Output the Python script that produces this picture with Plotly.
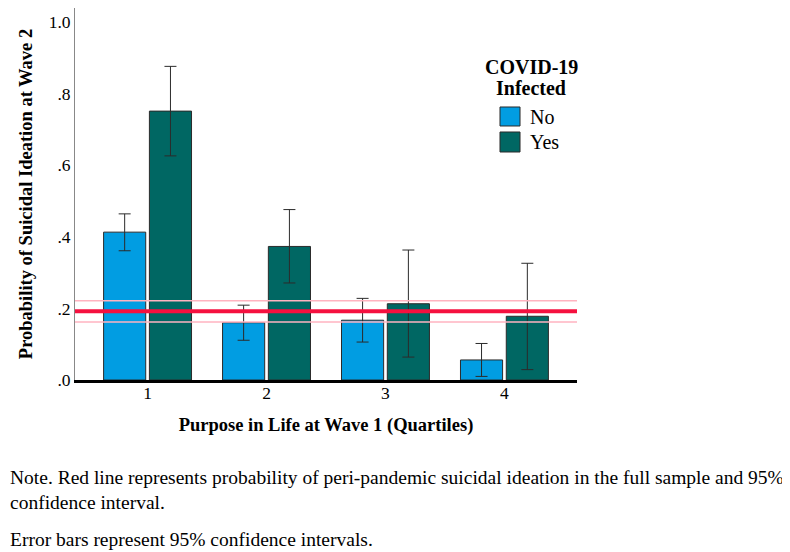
import plotly.graph_objects as go

# Data
quartiles = [1, 2, 3, 4]
groups = ["No", "Yes"]
no_values = [0.413, 0.160, 0.167, 0.056]
no_upper = [0.464, 0.209, 0.228, 0.102]
no_lower = [0.361, 0.111, 0.106, 0.010]
yes_values = [0.751, 0.373, 0.213, 0.178]
yes_upper = [0.876, 0.476, 0.363, 0.326]
yes_lower = [0.626, 0.271, 0.064, 0.029]
full_sample = 0.192
full_sample_ci = [0.162, 0.2215]
y_tickvals = [0, 0.2, 0.4, 0.6, 0.8, 1.0]
y_ticktext = [".0", ".2", ".4", ".6", ".8", "1.0"]

serif = "Liberation Serif, Times New Roman, serif"
colors = {"No": "#019de2", "Yes": "#006763"}

fig = go.Figure()

# Bars with 95% CI error bars
for name, vals, up, lo in [
    ("No", no_values, no_upper, no_lower),
    ("Yes", yes_values, yes_upper, yes_lower),
]:
    fig.add_trace(go.Bar(
        x=quartiles,
        y=vals,
        name=name,
        marker=dict(color=colors[name], line=dict(color="#2b2b2b", width=1)),
        error_y=dict(
            type="data",
            symmetric=False,
            array=[u - v for u, v in zip(up, vals)],
            arrayminus=[v - l for v, l in zip(vals, lo)],
            color="#2b2b2b",
            thickness=1,
            width=6,
        ),
        showlegend=False,
    ))

# Full-sample reference line and its confidence interval
for yv in full_sample_ci:
    fig.add_shape(type="line", xref="paper", yref="y", x0=0, x1=1, y0=yv, y1=yv,
                  line=dict(color="#ffb3c0", width=1.5), layer="above")
fig.add_shape(type="line", xref="paper", yref="y", x0=0, x1=1,
              y0=full_sample, y1=full_sample,
              line=dict(color="#f5103f", width=4), layer="above")

# Legend (drawn by hand to get the larger SPSS-style swatches)
for line_text, yp in [("COVID-19", 0.8414), ("Infected", 0.7849)]:
    fig.add_annotation(text=line_text, xref="paper", yref="paper", x=0.9084, y=yp,
                       xanchor="center", yanchor="middle", showarrow=False,
                       font=dict(family=serif, size=20, weight="bold", color="black"))
for name, (y0, y1), ytxt in [("No", (0.6828, 0.7339), 0.7070),
                              ("Yes", (0.6129, 0.6667), 0.6398)]:
    fig.add_shape(type="rect", xref="paper", yref="paper",
                  x0=0.8466, x1=0.8865, y0=y0, y1=y1,
                  fillcolor=colors[name], line=dict(color="#2b2b2b", width=1))
    fig.add_annotation(text=name, xref="paper", yref="paper", x=0.9024, y=ytxt,
                       xanchor="left", yanchor="middle", showarrow=False,
                       font=dict(family=serif, size=20, color="black"))

# Notes below the chart
notes = [
    ("Note. Red line represents probability of peri-pandemic suicidal ideation in the full sample and 95%", -0.2608),
    ("confidence interval.", -0.3280),
    ("Error bars represent 95% confidence intervals.", -0.4301),
]
for txt, yp in notes:
    fig.add_annotation(text=txt, xref="paper", yref="paper", x=-0.1335, y=yp,
                       xanchor="left", yanchor="middle", showarrow=False,
                       font=dict(family=serif, size=19.5, color="black"))

# The page body adds an 8px margin, so the figure is sized to fit inside it
fig.update_layout(
    width=782,
    height=544,
    margin=dict(l=67, r=213, t=0, b=172, autoexpand=False),
    plot_bgcolor="white",
    paper_bgcolor="white",
    barmode="group",
    bargap=0.23,
    bargroupgap=0.08,
    font=dict(family=serif, color="black"),
    showlegend=False,
    xaxis=dict(
        range=[0.39, 4.61],
        tickvals=quartiles,
        ticktext=[str(q) for q in quartiles],
        tickfont=dict(family=serif, size=17.5),
        ticklabelstandoff=-5,
        showline=True, linecolor="black", linewidth=3,
        showgrid=False, zeroline=False, ticks="",
        title=dict(text="Purpose in Life at Wave 1 (Quartiles)", standoff=17,
                   font=dict(family=serif, size=18.5, weight="bold")),
    ),
    yaxis=dict(
        range=[0, 1.039],
        tickvals=y_tickvals,
        ticktext=y_ticktext,
        tickfont=dict(family=serif, size=17.5),
        showline=True, linecolor="#888888", linewidth=1,
        showgrid=False, zeroline=False, ticks="",
        title=dict(text="Probability of Suicidal Ideation at Wave 2", standoff=11,
                   font=dict(family=serif, size=18.5, weight="bold")),
    ),
)

fig.write_html("out.html")
